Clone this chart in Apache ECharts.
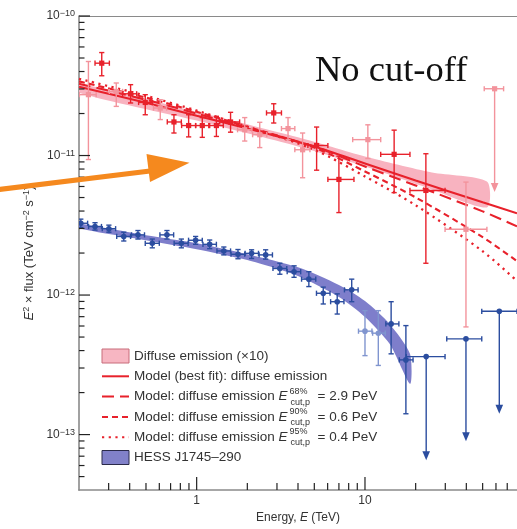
<!DOCTYPE html>
<html>
<head>
<meta charset="utf-8">
<script src="https://cdn.jsdelivr.net/npm/echarts@6/dist/echarts.min.js"></script>
<style>
  html, body { margin: 0; padding: 0; background: #fff; }
  #chart { width: 517px; height: 529px; }
</style>
</head>
<body>
<div id="chart"></div>
<script>
// ---- Data (energies in TeV, E^2 x flux in TeV cm^-2 s^-1) ----
// Diffuse emission points (x10): [E, F, F_low, F_high, E_low, E_high]
const diffusePoints = [
  [0.273, 4.59e-11, 3.73e-11, 5.47e-11, 0.249, 0.303],
  [0.405, 2.77e-11, 2.38e-11, 3.22e-11, 0.363, 0.44],
  [0.495, 2.40e-11, 1.96e-11, 2.73e-11, 0.452, 0.547],
  [0.733, 1.74e-11, 1.45e-11, 1.96e-11, 0.669, 0.811],
  [0.896, 1.64e-11, 1.36e-11, 1.96e-11, 0.814, 0.986],
  [1.08, 1.64e-11, 1.35e-11, 1.87e-11, 0.986, 1.18],
  [1.31, 1.64e-11, 1.37e-11, 1.91e-11, 1.195, 1.44],
  [1.59, 1.74e-11, 1.47e-11, 2.04e-11, 1.37, 1.80],
  [2.87, 2.02e-11, 1.71e-11, 2.35e-11, 2.60, 3.19],
  [5.16, 1.18e-11, 7.85e-12, 1.60e-11, 4.58, 6.02],
  [7.0, 6.74e-12, 3.90e-12, 9.89e-12, 6.02, 8.6],
  [14.9, 1.02e-11, 5.42e-12, 1.52e-11, 12.4, 18.5],
  [23.0, 5.62e-12, 1.69e-12, 1.03e-11, 18.5, 29.9]
];
// Lower-significance diffuse points
const diffusePointsFaint = [
  [0.2275, 2.73e-11, 9.36e-12, 4.72e-11, 0.201, 0.253],
  [0.333, 2.88e-11, 2.25e-11, 3.31e-11, 0.303, 0.363],
  [0.608, 2.19e-11, 1.81e-11, 2.51e-11, 0.554, 0.663],
  [1.93, 1.53e-11, 1.27e-11, 1.87e-11, 1.75, 2.13],
  [2.37, 1.41e-11, 1.14e-11, 1.73e-11, 2.15, 2.61],
  [3.49, 1.56e-11, 1.30e-11, 1.87e-11, 3.19, 3.83],
  [4.26, 1.10e-11, 6.93e-12, 1.45e-11, 3.83, 4.71],
  [10.4, 1.30e-11, 9.52e-12, 1.66e-11, 8.45, 12.4],
  [39.8, 2.96e-12, 5.91e-13, 6.45e-12, 29.9, 53]
];
// Upper limits: [E, F, arrow tip F, E_low, E_high]
const diffuseUpperLimits = [
  [58.9, 3.01e-11, 5.47e-12, 51.1, 66.6]
];

// HESS J1745-290 points
const hessPoints = [
  [0.205, 3.27e-12, 3.05e-12, 3.50e-12, 0.19, 0.225],
  [0.249, 3.10e-12, 2.92e-12, 3.30e-12, 0.228, 0.272],
  [0.301, 2.99e-12, 2.82e-12, 3.17e-12, 0.275, 0.33],
  [0.369, 2.63e-12, 2.44e-12, 2.82e-12, 0.335, 0.405],
  [0.448, 2.70e-12, 2.52e-12, 2.90e-12, 0.41, 0.49],
  [0.545, 2.35e-12, 2.18e-12, 2.52e-12, 0.495, 0.6],
  [0.666, 2.70e-12, 2.52e-12, 2.90e-12, 0.605, 0.73],
  [0.811, 2.35e-12, 2.18e-12, 2.52e-12, 0.735, 0.89],
  [0.986, 2.47e-12, 2.31e-12, 2.63e-12, 0.895, 1.08],
  [1.195, 2.31e-12, 2.15e-12, 2.48e-12, 1.09, 1.31],
  [1.45, 2.07e-12, 1.94e-12, 2.21e-12, 1.32, 1.59],
  [1.76, 1.96e-12, 1.82e-12, 2.12e-12, 1.6, 1.93],
  [2.12, 1.99e-12, 1.83e-12, 2.11e-12, 1.94, 2.33],
  [2.57, 1.94e-12, 1.81e-12, 2.11e-12, 2.35, 2.82],
  [3.12, 1.55e-12, 1.41e-12, 1.69e-12, 2.84, 3.43],
  [3.79, 1.47e-12, 1.34e-12, 1.62e-12, 3.45, 4.15],
  [4.64, 1.30e-12, 1.15e-12, 1.47e-12, 4.2, 5.1],
  [5.65, 1.03e-12, 8.63e-13, 1.14e-12, 5.15, 6.2],
  [6.84, 8.96e-13, 7.31e-13, 1.02e-12, 6.25, 7.5],
  [8.34, 1.09e-12, 8.96e-13, 1.30e-12, 7.55, 9.1],
  [14.3, 6.21e-13, 3.79e-13, 8.96e-13, 13.3, 15.9],
  [17.5, 3.43e-13, 1.41e-13, 6.04e-13, 16, 19.3]
];
const hessPointsFaint = [
  [10.0, 5.51e-13, 3.68e-13, 7.73e-13, 9.15, 11],
  [12.0, 5.33e-13, 3.13e-13, 7.73e-13, 11.1, 13.2]
];
const hessUpperLimits = [
  [23.1, 3.62e-13, 6.55e-14, 17.6, 29.9],
  [39.8, 4.85e-13, 8.96e-14, 30.6, 49.4],
  [62.8, 7.65e-13, 1.41e-13, 49.4, 80]
];

// Model curves for the diffuse emission
const modelE  = [0.2, 0.5, 1, 2, 5, 10, 20, 50, 80];
const bestFit = [3.11e-11, 2.39e-11, 1.93e-11, 1.56e-11, 1.16e-11, 8.77e-12, 6.63e-12, 4.62e-12, 3.85e-12];
const cut68   = [3.27e-11, 2.51e-11, 2.00e-11, 1.58e-11, 1.16e-11, 8.34e-12, 6.10e-12, 3.98e-12, 3.11e-12];
const cut90   = [3.40e-11, 2.60e-11, 2.06e-11, 1.61e-11, 1.14e-11, 7.69e-12, 5.01e-12, 2.60e-12, 1.75e-12];
const cut95   = [3.55e-11, 2.68e-11, 2.10e-11, 1.61e-11, 1.10e-11, 7.08e-12, 4.40e-12, 2.06e-12, 1.26e-12];

// Confidence bands
const diffuseBandE    = [0.2, 1, 4, 10, 25, 53];
const diffuseBandLow  = [2.82e-11, 1.78e-11, 1.16e-11, 8.34e-12, 5.72e-12, 4.25e-12];
const diffuseBandHigh = [3.27e-11, 2.06e-11, 1.35e-11, 9.84e-12, 7.56e-12, 6.52e-12];
const hessBandE    = [0.2, 0.5, 1, 2, 4, 7, 10, 14, 18.5];
const hessBandLow  = [3.01e-12, 2.47e-12, 2.13e-12, 1.78e-12, 1.37e-12, 9.68e-13, 6.97e-13, 4.47e-13, 2.31e-13];
const hessBandHigh = [3.24e-12, 2.68e-12, 2.35e-12, 1.96e-12, 1.58e-12, 1.18e-12, 9.06e-13, 6.21e-13, 3.79e-13];

// Axis ranges and labelled ticks
const xRange = [0.2, 80];
const yRange = [4e-14, 1e-10];
const xLabelTicks = [1, 10];
const yLabelTicks = [1e-13, 1e-12, 1e-11, 1e-10];

// ---- Names ----
const NAME_BAND = 'Diffuse emission (×10)';
const NAME_BEST = 'Model (best fit): diffuse emission';
const NAME_68 = 'Model: diffuse emission E cut,p 68% = 2.9 PeV';
const NAME_90 = 'Model: diffuse emission E cut,p 90% = 0.6 PeV';
const NAME_95 = 'Model: diffuse emission E cut,p 95% = 0.4 PeV';
const NAME_HESS = 'HESS J1745–290';

const FONT = "'Liberation Sans', Arial, Helvetica, sans-serif";
const RED = '#e8212b';
const RED_FAINT = '#f3939c';
const BLUE = '#2b4d9f';
const BLUE_FAINT = '#8095cf';

// minor ticks of a log axis (2..9 within each decade)
function minorTicks(lo, hi) {
  const out = [];
  for (let d = Math.floor(Math.log10(lo)); d <= Math.ceil(Math.log10(hi)); d++) {
    for (let k = 2; k <= 9; k++) {
      const v = k * Math.pow(10, d);
      if (v > lo * 1.0001 && v < hi * 0.9999) out.push(v);
    }
  }
  return out;
}
const xMinor = minorTicks(xRange[0], xRange[1]);
const yMinor = minorTicks(yRange[0], yRange[1]);

function isDecade(v) {
  const l = Math.log10(v);
  return Math.abs(l - Math.round(l)) < 1e-6;
}

// band polygon drawn once from the arrays
function bandRenderer(E, lo, hi, fill) {
  return function (params, api) {
    if (params.dataIndex !== 0) return;
    const pts = [];
    for (let i = 0; i < E.length; i++) pts.push(api.coord([E[i], hi[i]]));
    for (let i = E.length - 1; i >= 0; i--) pts.push(api.coord([E[i], lo[i]]));
    return { type: 'polygon', shape: { points: pts, smooth: 0.25 }, style: { fill: fill }, silent: true };
  };
}

// error bars + marker
function pointRenderer(color, marker) {
  return function (params, api) {
    const E = api.value(0), F = api.value(1), Flo = api.value(2), Fhi = api.value(3), Elo = api.value(4), Ehi = api.value(5);
    const p = api.coord([E, F]);
    const pl = api.coord([E, Flo]);
    const ph = api.coord([E, Fhi]);
    const xl = api.coord([Elo, F]);
    const xh = api.coord([Ehi, F]);
    const st = { stroke: color, lineWidth: 1.4 };
    const c = 2.6;
    const ch = [
      { type: 'line', shape: { x1: p[0], y1: ph[1], x2: p[0], y2: pl[1] }, style: st },
      { type: 'line', shape: { x1: p[0] - c, y1: ph[1], x2: p[0] + c, y2: ph[1] }, style: st },
      { type: 'line', shape: { x1: p[0] - c, y1: pl[1], x2: p[0] + c, y2: pl[1] }, style: st },
      { type: 'line', shape: { x1: xl[0], y1: p[1], x2: xh[0], y2: p[1] }, style: st },
      { type: 'line', shape: { x1: xl[0], y1: p[1] - c, x2: xl[0], y2: p[1] + c }, style: st },
      { type: 'line', shape: { x1: xh[0], y1: p[1] - c, x2: xh[0], y2: p[1] + c }, style: st }
    ];
    if (marker === 'rect') {
      ch.push({ type: 'rect', shape: { x: p[0] - 2.6, y: p[1] - 2.6, width: 5.2, height: 5.2 }, style: { fill: color } });
    } else {
      ch.push({ type: 'circle', shape: { cx: p[0], cy: p[1], r: 2.8 }, style: { fill: color } });
    }
    return { type: 'group', children: ch };
  };
}

// upper limits with a downward arrow
function limitRenderer(color, marker) {
  return function (params, api) {
    const E = api.value(0), F = api.value(1), Ftip = api.value(2), Elo = api.value(3), Ehi = api.value(4);
    const p = api.coord([E, F]);
    const t = api.coord([E, Ftip]);
    const xl = api.coord([Elo, F]);
    const xh = api.coord([Ehi, F]);
    const st = { stroke: color, lineWidth: 1.4 };
    const c = 2.6;
    const ch = [
      { type: 'line', shape: { x1: p[0], y1: p[1], x2: p[0], y2: t[1] - 7 }, style: st },
      { type: 'polygon', shape: { points: [[p[0] - 3.8, t[1] - 9], [p[0] + 3.8, t[1] - 9], [p[0], t[1]]] }, style: { fill: color } },
      { type: 'line', shape: { x1: xl[0], y1: p[1], x2: xh[0], y2: p[1] }, style: st },
      { type: 'line', shape: { x1: xl[0], y1: p[1] - c, x2: xl[0], y2: p[1] + c }, style: st },
      { type: 'line', shape: { x1: xh[0], y1: p[1] - c, x2: xh[0], y2: p[1] + c }, style: st }
    ];
    if (marker === 'rect') {
      ch.push({ type: 'rect', shape: { x: p[0] - 2.6, y: p[1] - 2.6, width: 5.2, height: 5.2 }, style: { fill: color } });
    } else {
      ch.push({ type: 'circle', shape: { cx: p[0], cy: p[1], r: 2.8 }, style: { fill: color } });
    }
    return { type: 'group', children: ch };
  };
}

// inward-pointing axis ticks
function tickRenderer(params, api) {
  if (params.dataIndex !== 0) return;
  const ch = [];
  const st = { stroke: '#222', lineWidth: 1.2 };
  yLabelTicks.forEach(v => {
    const p = api.coord([xRange[0], v]);
    ch.push({ type: 'line', shape: { x1: p[0], y1: p[1], x2: p[0] + 11, y2: p[1] }, style: st });
  });
  yMinor.forEach(v => {
    const p = api.coord([xRange[0], v]);
    ch.push({ type: 'line', shape: { x1: p[0], y1: p[1], x2: p[0] + 5.5, y2: p[1] }, style: st });
  });
  xLabelTicks.forEach(v => {
    const p = api.coord([v, yRange[0]]);
    ch.push({ type: 'line', shape: { x1: p[0], y1: p[1], x2: p[0], y2: p[1] - 13 }, style: st });
  });
  xMinor.forEach(v => {
    const p = api.coord([v, yRange[0]]);
    ch.push({ type: 'line', shape: { x1: p[0], y1: p[1], x2: p[0], y2: p[1] - 7 }, style: st });
  });
  return { type: 'group', children: ch, silent: true };
}

const pairs = (xs, ys) => xs.map((x, i) => [x, ys[i]]);

const chart = echarts.init(document.getElementById('chart'), null, { renderer: 'canvas' });

const legendLabels = {};
legendLabels[NAME_BAND] = '{t|Diffuse emission (×10)}';
legendLabels[NAME_BEST] = '{t|Model (best fit): diffuse emission}';
legendLabels[NAME_68] = '{t|Model: diffuse emission }{e|E}{sup|68%}{sub|cut,p}{t|  = 2.9 PeV}';
legendLabels[NAME_90] = '{t|Model: diffuse emission }{e|E}{sup|90%}{sub|cut,p}{t|  = 0.6 PeV}';
legendLabels[NAME_95] = '{t|Model: diffuse emission }{e|E}{sup|95%}{sub|cut,p}{t|  = 0.4 PeV}';
legendLabels[NAME_HESS] = '{t|HESS J1745–290}';

const lineLegendStyle = { opacity: 0 };

const option = {
  animation: false,
  backgroundColor: '#fff',
  textStyle: { fontFamily: FONT },
  grid: { left: 79, right: 0, top: 16, bottom: 37.3, containLabel: false },
  xAxis: [{
    type: 'log', logBase: 10, min: xRange[0], max: xRange[1],
    axisLine: { show: true, lineStyle: { color: '#8a8a8a', width: 1.6 } },
    axisTick: { show: false }, minorTick: { show: false },
    splitLine: { show: false },
    axisLabel: {
      color: '#333', fontSize: 12, margin: 5, fontFamily: FONT,
      showMinLabel: false, showMaxLabel: false,
      formatter: v => (isDecade(v) && v >= 1) ? String(Math.round(v)) : ''
    },
    name: 'Energy, {i|E} (TeV)', nameLocation: 'middle', nameGap: 19,
    nameTextStyle: { color: '#333', fontSize: 12, fontFamily: FONT,
      rich: { i: { fontStyle: 'italic', fontSize: 12, fontFamily: FONT, color: '#333' } } }
  }, {
    type: 'log', logBase: 10, min: xRange[0], max: xRange[1], position: 'top',
    axisLine: { show: true, onZero: false, lineStyle: { color: '#8a8a8a', width: 1 } },
    axisTick: { show: false }, axisLabel: { show: false }, splitLine: { show: false }
  }],
  yAxis: {
    type: 'log', logBase: 10, min: yRange[0], max: yRange[1],
    axisLine: { show: true, lineStyle: { color: '#8a8a8a', width: 1.6 } },
    axisTick: { show: false }, minorTick: { show: false },
    splitLine: { show: false },
    axisLabel: {
      margin: 4, showMinLabel: false,
      formatter: v => isDecade(v) ? '{b|10}{s|−' + Math.round(-Math.log10(v)) + '}' : '',
      rich: {
        b: { fontSize: 12, color: '#333', fontFamily: FONT, lineHeight: 14 },
        s: { fontSize: 9, color: '#333', fontFamily: FONT, verticalAlign: 'top', lineHeight: 9 }
      }
    },
    name: '{i|E}{s|2}{t| × flux (TeV cm}{s|−2}{t| s}{s|−1}{t|)}',
    nameLocation: 'middle', nameGap: 36, nameRotate: 90,
    nameTextStyle: {
      color: '#333', fontSize: 13, fontFamily: FONT,
      rich: {
        i: { fontStyle: 'italic', fontSize: 13, color: '#333', fontFamily: FONT, lineHeight: 14 },
        t: { fontSize: 13, color: '#333', fontFamily: FONT, lineHeight: 14 },
        s: { fontSize: 9, color: '#333', fontFamily: FONT, verticalAlign: 'top', lineHeight: 8 }
      }
    }
  },
  legend: {
    orient: 'vertical', left: 101, top: 346, padding: 0,
    itemWidth: 27, itemHeight: 14, itemGap: 0.3,
    selectedMode: false,
    data: [
      { name: NAME_BAND, icon: 'rect', itemStyle: { color: '#f7b6c2', borderColor: '#c86c7a', borderWidth: 1 } },
      { name: NAME_BEST, itemStyle: lineLegendStyle },
      { name: NAME_68, itemStyle: lineLegendStyle },
      { name: NAME_90, itemStyle: lineLegendStyle },
      { name: NAME_95, itemStyle: lineLegendStyle },
      { name: NAME_HESS, icon: 'rect', itemStyle: { color: '#8181c9', borderColor: '#2a2a4a', borderWidth: 1 } }
    ],
    formatter: name => legendLabels[name] || name,
    textStyle: {
      fontFamily: FONT, fontSize: 13.5, color: '#333', lineHeight: 20,
      rich: {
        t: { fontSize: 13.5, color: '#333', fontFamily: FONT, lineHeight: 20 },
        e: { fontSize: 13.5, color: '#333', fontFamily: FONT, fontStyle: 'italic', lineHeight: 20 },
        sup: { fontSize: 9, color: '#333', fontFamily: FONT, verticalAlign: 'top', lineHeight: 10, width: 0, padding: [0, 0, 0, 2] },
        sub: { fontSize: 9, color: '#333', fontFamily: FONT, verticalAlign: 'bottom', lineHeight: 10, padding: [0, 0, 0, 1] }
      }
    }
  },
  graphic: [
    {
      type: 'text', z: 100, silent: true,
      style: { x: 315, y: 71, text: 'No cut-off', fill: '#111',
        font: "36.5px 'Liberation Serif', 'Times New Roman', serif", verticalAlign: 'middle', align: 'left' }
    },
    {
      type: 'polyline', z: 100, silent: true,
      shape: { points: [[-2, 189.5], [150, 171]] },
      style: { stroke: '#f5891e', lineWidth: 5.2 }
    },
    {
      type: 'polygon', z: 100, silent: true,
      shape: { points: [[146.5, 154], [189.5, 162.7], [150, 182]] },
      style: { fill: '#f5891e' }
    }
  ],
  series: [
    {
      name: NAME_BAND, type: 'custom', z: 1, clip: true,
      itemStyle: { color: '#f7b6c2' },
      renderItem: bandRenderer(diffuseBandE, diffuseBandLow, diffuseBandHigh, '#f8b3c0'),
      encode: { x: 0, y: 1 },
      data: pairs(diffuseBandE, diffuseBandLow)
    },
    {
      name: NAME_HESS, type: 'custom', z: 1, clip: true,
      itemStyle: { color: '#8181c9' },
      renderItem: bandRenderer(hessBandE, hessBandLow, hessBandHigh, '#7e7ecb'),
      encode: { x: 0, y: 1 },
      data: pairs(hessBandE, hessBandLow)
    },
    {
      name: NAME_BEST, type: 'line', z: 3, symbol: 'none', smooth: 0.3,
      lineStyle: { color: RED, width: 2.1 }, itemStyle: { color: RED },
      data: pairs(modelE, bestFit)
    },
    {
      name: NAME_68, type: 'line', z: 3, symbol: 'none', smooth: 0.3,
      lineStyle: { color: RED, width: 2.1, type: [12, 6] }, itemStyle: { color: RED },
      data: pairs(modelE, cut68)
    },
    {
      name: NAME_90, type: 'line', z: 3, symbol: 'none', smooth: 0.3,
      lineStyle: { color: RED, width: 2.1, type: [6, 4] }, itemStyle: { color: RED },
      data: pairs(modelE, cut90)
    },
    {
      name: NAME_95, type: 'line', z: 3, symbol: 'none', smooth: 0.3,
      lineStyle: { color: RED, width: 2.3, type: [2.2, 4.5] }, itemStyle: { color: RED },
      data: pairs(modelE, cut95)
    },
    {
      name: 'diffuse-faint', type: 'custom', z: 4, clip: true,
      renderItem: pointRenderer(RED_FAINT, 'rect'), encode: { x: 0, y: 1 },
      data: diffusePointsFaint
    },
    {
      name: 'diffuse', type: 'custom', z: 5, clip: true,
      renderItem: pointRenderer(RED, 'rect'), encode: { x: 0, y: 1 },
      data: diffusePoints
    },
    {
      name: 'diffuse-limits', type: 'custom', z: 4, clip: true,
      renderItem: limitRenderer(RED_FAINT, 'rect'), encode: { x: 0, y: 1 },
      data: diffuseUpperLimits
    },
    {
      name: 'hess-faint', type: 'custom', z: 4, clip: true,
      renderItem: pointRenderer(BLUE_FAINT, 'circle'), encode: { x: 0, y: 1 },
      data: hessPointsFaint
    },
    {
      name: 'hess', type: 'custom', z: 5, clip: true,
      renderItem: pointRenderer(BLUE, 'circle'), encode: { x: 0, y: 1 },
      data: hessPoints
    },
    {
      name: 'hess-limits', type: 'custom', z: 5, clip: true,
      renderItem: limitRenderer(BLUE, 'circle'), encode: { x: 0, y: 1 },
      data: hessUpperLimits
    },
    {
      name: 'ticks', type: 'custom', z: 6, silent: true, clip: false,
      renderItem: tickRenderer, encode: { x: 0, y: 1 },
      data: [[1, 1e-11]]
    }
  ]
};

chart.setOption(option);
</script>
</body>
</html>
